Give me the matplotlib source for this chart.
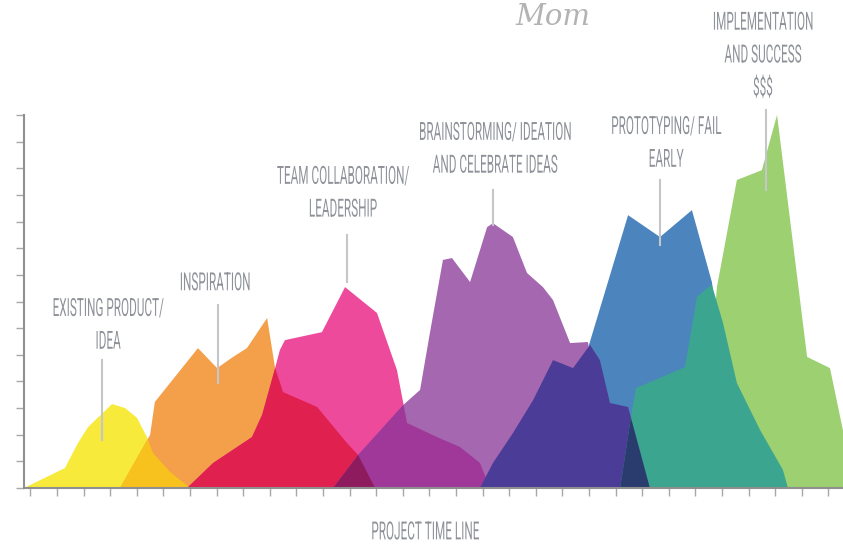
import numpy as np
import matplotlib
matplotlib.use("Agg")
import matplotlib.pyplot as plt
from matplotlib.patheffects import AbstractPathEffect
from matplotlib.transforms import Affine2D

# outlines of the phases, x = project time (tick units), y = level (tick units)
yellow_x = [0, 1.54, 2.03, 2.41, 3.31, 3.80, 4.25, 4.62, 4.85, 5.49, 6.24]
yellow_y = [0, 0.75, 1.69, 2.29, 3.15, 3.00, 2.63, 1.91, 1.31, 0.60, 0]

orange_x = [3.61, 4.74, 4.92, 6.54, 7.26, 7.86, 8.38, 9.14, 9.44, 9.74, 11.02, 12.14, 12.56, 13.20]
orange_y = [0, 1.99, 3.23, 5.25, 4.50, 4.92, 5.25, 6.38, 4.50, 3.60, 3.04, 1.69, 1.24, 0]

pink_x = [6.13, 7.11, 8.57, 8.95, 9.44, 9.62, 9.81, 11.20, 12.07, 13.27, 14.02, 14.25, 14.40,
          15.53, 16.39, 17.14, 17.52]
pink_y = [0, 0.94, 1.91, 2.74, 4.50, 5.18, 5.55, 5.85, 7.54, 6.57, 4.43, 3.23, 2.44,
          1.91, 1.54, 0.94, 0]

violet_x = [11.62, 12.56, 14.25, 14.89, 15.26, 15.75, 16.09, 16.77, 17.41, 17.63, 18.38, 18.91,
            19.51, 19.89, 20.53, 21.20, 21.47, 21.65]
violet_y = [0, 1.24, 3.11, 3.68, 5.82, 8.56, 8.63, 7.73, 9.79, 9.94, 9.42, 8.07,
            7.54, 7.05, 5.44, 5.48, 4.05, 0]

blue_x = [20.90, 21.24, 22.71, 23.91, 25.11, 25.86, 26.92]
blue_y = [0, 5.37, 10.24, 9.42, 10.43, 7.73, 0]

indigo_x = [17.14, 17.63, 18.38, 19.14, 19.89, 20.64, 21.28, 21.65, 22.03, 22.71, 23.53]
indigo_y = [0, 0.94, 2.06, 3.30, 4.80, 4.50, 5.37, 4.80, 3.19, 3.04, 0]

green_x = [25.41, 26.05, 26.80, 27.74, 28.31, 29.44, 30.30, 31.24]
green_y = [0, 7.54, 11.56, 11.93, 14.00, 4.92, 4.50, 0]

teal_x = [22.41, 22.86, 23.01, 24.85, 25.30, 25.68, 25.86, 26.28, 26.80, 27.67, 28.53, 28.72]
teal_y = [0, 2.93, 3.75, 4.54, 7.17, 7.50, 7.62, 6.19, 3.94, 2.18, 0.68, 0]

# labels: text, centre x, centre y, pointer x, pointer top, pointer bottom
labels = ["EXISTING PRODUCT/\nIDEA", "INSPIRATION", "TEAM COLLABORATION/\nLEADERSHIP",
          "BRAINSTORMING/ IDEATION\nAND CELEBRATE IDEAS", "PROTOTYPING/ FAIL\nEARLY",
          "IMPLEMENTATION\nAND SUCCESS\n$$$"]
label_x = [3.16, 7.18, 11.99, 17.71, 24.14, 27.78]
label_y = [6.15, 7.73, 11.11, 12.76, 12.98, 16.28]
pointer_x = [2.93, 7.29, 12.14, 17.63, 23.91, 27.89]
pointer_top = [4.80, 6.87, 9.49, 11.18, 11.56, 14.18]
pointer_bottom = [1.80, 3.94, 7.73, 9.87, 9.12, 11.18]

TEXT_GREY = "#8e9298"
NARROW = 0.47   # the labels use a tall, very narrow lettering


class Stretch(AbstractPathEffect):
    """draw text taller about the middle of the capitals"""
    def __init__(self, sy, mid=35.5):
        super().__init__()
        self.sy = sy
        self.mid = mid

    def draw_path(self, renderer, gc, tpath, affine, rgbFace=None):
        st = Affine2D().translate(0, -self.mid).scale(1.0, self.sy).translate(0, self.mid)
        renderer.draw_path(gc, tpath, st + affine, rgbFace)


fig = plt.figure(figsize=(8.43, 5.45), dpi=100)
ax = fig.add_axes([24 / 843, 57 / 545, 819 / 843, 373 / 545])

def shape(xs, ys, color):
    return ax.fill(xs, ys, color=color, lw=0, clip_on=False)[0]

def overlap(xs, ys, color, inside):
    p = ax.fill(xs, ys, color=color, lw=0)[0]
    p.set_clip_path(inside)
    return p

def label(x, y, s, size, linespacing=1.2):
    # laid out narrow, drawn tall
    return ax.text(x, y, s, ha="center", va="center", fontsize=size * NARROW,
                   linespacing=linespacing / NARROW, family=["Roboto", "DejaVu Sans"],
                   color=TEXT_GREY, path_effects=[Stretch(1.0 / NARROW)])

yellow = shape(yellow_x, yellow_y, "#f7ea3a")
orange = shape(orange_x, orange_y, "#f4a04a")
overlap(yellow_x, yellow_y, "#f8c21e", orange)
pink = shape(pink_x, pink_y, "#ee4a9c")
overlap(orange_x, orange_y, "#e0204f", pink)
violet = shape(violet_x, violet_y, "#a567b0")
overlap(pink_x, pink_y, "#a0389a", violet)
overlap(orange_x, orange_y, "#8e1b5e", violet)
blue = shape(blue_x, blue_y, "#4c85be")
green = shape(green_x, green_y, "#9cd070")
indigo = shape(indigo_x, indigo_y, "#4b3c97")
teal = shape(teal_x, teal_y, "#3ba58f")
overlap(indigo_x, indigo_y, "#2a3b6e", teal)

ax.set_xlim(0, 819 / 26.6)
ax.set_ylim(0, 14.0)
ax.set_xticks(np.arange(0.24, 30.7, 1.0))
ax.set_yticks(np.arange(0, 15, 1))
ax.set_xticklabels([])
ax.set_yticklabels([])
ax.tick_params(length=5.5, width=1, color="#a8a8a8")
for s in ["top", "right"]:
    ax.spines[s].set_visible(False)
for s in ["left", "bottom"]:
    ax.spines[s].set_color("#8f8f8f")
    ax.spines[s].set_linewidth(1.5)
    ax.spines[s].set_zorder(5)

for txt, lx, ly, px, pt, pb in zip(labels, label_x, label_y, pointer_x, pointer_top, pointer_bottom):
    label(lx, ly, txt, 18, linespacing=1.4)
    ax.plot([px, px], [pb, pt], color="#c4c6c9", lw=1.5, clip_on=False, zorder=6)

label(15.08, -1.62, "PROJECT TIME LINE", 18)

# bit of the hand written title at the top
ax.text(18.46, 17.37, "Mom", ha="left", va="baseline", fontsize=21, style="italic",
        family="DejaVu Serif", color="#b3b3b3")

fig.savefig("out.png", dpi=100)
